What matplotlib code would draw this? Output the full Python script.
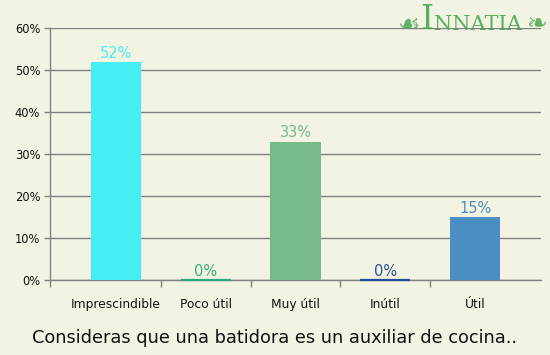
import matplotlib.pyplot as plt
import numpy as np

categorias = ['Imprescindible', 'Poco útil', 'Muy útil', 'Inútil', 'Útil']
valores = [52, 0, 33, 0, 15]
etiquetas = ['52%', '0%', '33%', '0%', '15%']
colores = ['#44EEF2', '#2CA87A', '#76BA8A', '#1F4E99', '#4A8EC3']
colores_txt = ['#44EEF2', '#3BAA7E', '#76BA8A', '#2A4F91', '#4A8EC3']

fondo = '#F3F3E3'
gris = '#808080'
verde_logo = '#3DA548'

fig = plt.figure(figsize=(5.5, 3.55), dpi=100, facecolor=fondo)
ax = fig.add_axes([50 / 550, 74.7 / 355, 491 / 550, 252 / 355])
ax.set_facecolor(fondo)

x = np.arange(len(categorias))
grosor = [1.6 if v == 0 else 0 for v in valores]
barras = ax.bar(x, valores, width=0.557, color=colores, edgecolor=colores,
                linewidth=grosor, zorder=3)
for b in barras:
    b.set_clip_on(False)

for xi, v, t, c in zip(x, valores, etiquetas, colores_txt):
    ax.text(xi, v + 0.3, t, ha='center', va='bottom', color=c, fontsize=10.5, zorder=4)

ax.set_xlim(-0.734, 4.734)
ax.set_ylim(0, 60)
ax.set_yticks(range(0, 61, 10))
ax.set_yticklabels([f'{v}%' for v in range(0, 61, 10)], fontsize=8.3, color='#111111')
ax.yaxis.grid(True, color=gris, linewidth=1, zorder=0)

ax.set_xticks(x)
ax.set_xticklabels(categorias, fontsize=8.8, color='#111111')
ax.tick_params(axis='x', which='major', length=0, pad=13)
ax.set_xticks([-0.734, 0.5, 1.5, 2.5, 3.5], minor=True)
ax.tick_params(axis='x', which='minor', length=5, color=gris, width=1)
ax.tick_params(axis='y', length=4, color=gris, width=1, pad=3)

for s in ['top', 'right']:
    ax.spines[s].set_visible(False)
for s in ['left', 'bottom']:
    ax.spines[s].set_color(gris)
    ax.spines[s].set_linewidth(1)

fig.text(0.5, 17 / 355, 'Consideras que una batidora es un auxiliar de cocina..',
         ha='center', va='center', fontsize=12.8, color='#111111')

# logo
fig.text(409 / 550, 1 - 24 / 355, '☙', ha='center', va='center', fontsize=18,
         color=verde_logo, alpha=0.8)
fig.text(420 / 550, 1 - 20 / 355, 'I', ha='left', va='center', fontsize=24,
         family='DejaVu Serif', color=verde_logo, alpha=0.85)
fig.text(434 / 550, 1 - 24 / 355, 'NNATIA', ha='left', va='center', fontsize=15,
         family='DejaVu Serif', color=verde_logo, alpha=0.85)
fig.text(537 / 550, 1 - 24 / 355, '❧', ha='center', va='center', fontsize=18,
         color=verde_logo, alpha=0.8)

fig.savefig('out.png', dpi=100, facecolor=fondo)
